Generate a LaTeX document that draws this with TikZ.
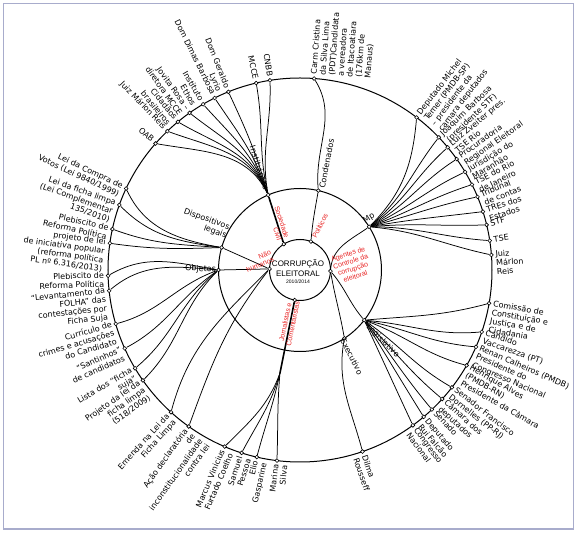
\documentclass[tikz,border=0pt]{standalone}
\usepackage{fontspec}
\setmainfont{DejaVu Sans}
\newfontfamily\redfnt{Liberation Sans}
\usetikzlibrary{backgrounds}
\definecolor{redlab}{RGB}{232,36,36}
\definecolor{framec}{RGB}{168,172,204}
\newcommand\lblfont{\fontsize{8}{9}\selectfont}
\newcommand\tabL[1]{\begin{tabular}[t]{@{}l@{}}#1\end{tabular}}
\newcommand\tabR[1]{\begin{tabular}[t]{@{}r@{}}#1\end{tabular}}
\begin{document}
\begin{tikzpicture}[x=1pt,y=1pt,
  conn/.style={line width=0.75pt},
  bundle/.style={line width=1.6pt},
  ring/.style={line width=1pt},
  dot/.style={circle,draw,fill=white,inner sep=0pt,minimum size=3.8pt,line width=0.6pt},
  lr/.style={anchor=base west,inner sep=0pt,font=\lblfont},
  ll/.style={anchor=base east,inner sep=0pt,font=\lblfont},
  hublab/.style={inner sep=0pt,font=\lblfont},
  redl/.style={text=redlab,inner sep=0pt,font=\redfnt\fontsize{7}{7.8}\selectfont}]
\useasboundingbox (-300,-264) rectangle (278,270);
\draw[framec,line width=1.5pt] (-296.5,266.5) rectangle (273.5,-259);
\draw[ring] (0,0) circle[radius=192pt];
\draw[ring] (0,0) circle[radius=81.5pt];
\node[circle,draw,ring,minimum size=61pt,inner sep=0pt] (core) at (0,0) {};
\node[inner sep=0pt,font=\redfnt\fontsize{8}{10.5}\selectfont] (ctext) at (-2,-3)
  {\begin{tabular}{@{}c@{}}CORRUPÇÃO\\ELEITORAL\\[-3.5pt]{\fontsize{5}{6}\selectfont 2010/2014}\end{tabular}};

% hub dots
\node[dot] (S) at (122:30.5) {};
\node[dot] (P) at (69:30.5) {};
\node[dot] (A) at (-2:30.5) {};
\node[dot] (N) at (178:30.5) {};
\node[dot] (J) at (260:30.5) {};
\node[dot] (I) at (113:81.5) {};
\node[dot] (C) at (77:81.5) {};
\node[dot] (M) at (32:81.5) {};
\node[dot] (E) at (-57:81.5) {};
\node[dot] (L) at (-38:81.5) {};
\node[dot] (D) at (164:81.5) {};
\node[dot] (O) at (180:81.5) {};
\coordinate (K) at (259:105);

% red labels
\node[redl,rotate=-72.2] (rSoc) at (-22.7,46.5) {\tabR{Sociedade\\Civil}};
\node[redl,rotate=63] (rPol) at (20,44) {Políticos};
\node[redl,rotate=18] (rAg) at (52,4) {\begin{tabular}{@{}c@{}}Agentes de\\Controle da\\corrupção\\eleitoral\end{tabular}};
\node[redl,rotate=22] (rNh) at (-41,8) {\tabR{Não\\humanos}};
\node[redl,rotate=78.5] (rJor) at (-10,-53) {\begin{tabular}{@{}c@{}}Jornalistas e\\Comentaristas\end{tabular}};

% hub labels
\node[hublab,anchor=east,rotate=-72] (Il) at (-34,80) {Instituições};
\node[hublab,anchor=west,rotate=79] (Cl) at (21.8,81.7) {Condenados};
\node[hublab,rotate=32] (Ml) at (69,51.5) {Mp};
\node[hublab,rotate=-63] (El) at (51.7,-86.7) {Executivo};
\node[hublab,rotate=-45] (Ll) at (82.7,-71) {Legislativo};
\node[hublab,rotate=-20] (Dl) at (-95,46) {\tabR{Dispositivos\\legais}};
\node[hublab,anchor=east,rotate=-3] (Ol) at (-84,0) {Objetos};

% outer dots
\foreach \n/\a in {a1/138.8,a2/133.7,a3/129.5,a4/125.1,a5/120.3,a6/116.4,a7/111.9,a8/103.2,a9/99,
  b1/85.8,c1/52.6,c2/43.7,c3/39.7,c4/35.3,c5/30.7,c6/26.4,c7/22.4,c8/17.7,c9/13.6,c10/8.8,c11/4.5,
  d1/-10,d2/-18.8,d3/-23.6,d4/-29.8,d5/-37.7,d6/-42.2,d7/-46.6,d8/-49.9,d9/-54,e1/-71,
  f1/246.9,f2/252.3,f3/257,f4/263.1,g1/154.9,g2/160.2,g3/167.7,g4/172,
  h1/181.7,h2/186.2,h3/196.3,h4/204.1,h5/210.8,h6/215.1,i1/227.8,i2/234.6}
  {\node[dot] (\n) at (\a:192) {};}

% outer labels, left side
\node[ll,rotate=-41.2] (la1) at (139.45:196) {\tabR{OAB}};
\node[ll,rotate=-46.3] (la2) at (134.35:196) {\tabR{Juiz Márlon Reis}};
\node[ll,rotate=-50.5] (la3) at (130.15:196) {\tabR{Cidadãos\\brasileiros}};
\node[ll,rotate=-54.9] (la4) at (125.75:196) {\tabR{Jovita Rosa –\\diretora MCCE}};
\node[ll,rotate=-59.7] (la5) at (120.95:196) {\tabR{Instituto\\Ethos}};
\node[ll,rotate=-63.6] (la6) at (117.05:196) {\tabR{Dom Dimas Barbosa}};
\node[ll,rotate=-68.1] (la7) at (112.55:196) {\tabR{Dom Geraldo\\Lyrio}};
\node[ll,rotate=-76.8] (la8) at (103.85:196) {\tabR{MCCE}};
\node[ll,rotate=-81] (la9) at (99.65:196) {\tabR{CNBB}};
\node[ll,rotate=66.9] (lf1) at (247.55:196) {\tabR{Marcus Vinicius\\Furtado Coelho}};
\node[ll,rotate=72.3] (lf2) at (252.95:196) {\tabR{Samuel\\Pessoa}};
\node[ll,rotate=77] (lf3) at (257.65:196) {\tabR{Elio\\Gasparine}};
\node[ll,rotate=83.1] (lf4) at (263.75:196) {\tabR{Marina\\Silva}};
\node[ll,rotate=-25.1] (lg1) at (155.55:196) {\tabR{Lei da Compra de\\Votos (Lei 9840/1999)}};
\node[ll,rotate=-19.8] (lg2) at (160.85:196) {\tabR{Lei da ficha limpa\\(Lei Complementar\\135/2010)}};
\node[ll,rotate=-12.3] (lg3) at (168.35:196) {\tabR{Plebiscito de\\Reforma Política}};
\node[ll,rotate=-8] (lg4) at (172.65:196) {\tabR{projeto de lei\\de iniciativa popular\\(reforma política\\PL nº 6.316/2013)}};
\node[ll,rotate=1.7] (lh1) at (182.35:196) {\tabR{Plebiscito de\\Reforma Política}};
\node[ll,rotate=6.2] (lh2) at (186.85:196) {\tabR{“Levantamento da\\FOLHA” das\\contestações por\\Ficha Suja}};
\node[ll,rotate=16.3] (lh3) at (196.95:196) {\tabR{Currículo de\\crimes e acusações\\do Candidato}};
\node[ll,rotate=24.1] (lh4) at (204.75:196) {\tabR{“Santinhos”\\de candidatos}};
\node[ll,rotate=30.8] (lh5) at (211.45:196) {\tabR{Lista dos “ficha\\suja”}};
\node[ll,rotate=35.1] (lh6) at (215.75:196) {\tabR{Projeto da lei da\\ficha limpa\\(518/2009)}};
\node[ll,rotate=47.8] (li1) at (228.45:196) {\tabR{Emenda na Lei da\\Ficha Limpa}};
\node[ll,rotate=54.6] (li2) at (235.25:196) {\tabR{Ação declaratória\\de\\inconstitucionalidade\\contra lei}};

% outer labels, right side
\node[lr,rotate=85.8] (lb1) at (85.15:196) {\tabL{Carm Cristina\\da Silva Lima\\(PDT)Candidata\\a vereadora\\de Itacoatiara\\(176km de\\Manaus)}};
\node[lr,rotate=52.6] (lc1) at (51.95:196) {\tabL{Deputado Michel\\Temer (PMDB-SP)\\– presidente da\\camara deputados}};
\node[lr,rotate=43.7] (lc2) at (43.05:196) {\tabL{Joaquim Barbosa\\(presidente STF)}};
\node[lr,rotate=39.7] (lc3) at (39.05:196) {\tabL{Luiz Zveiter pres.\\TSE Rio}};
\node[lr,rotate=35.3] (lc4) at (34.65:196) {\tabL{Procuradoria\\Regional Eleitoral}};
\node[lr,rotate=30.7] (lc5) at (30.05:196) {\tabL{Jurisdição do\\Maranhão}};
\node[lr,rotate=26.4] (lc6) at (25.75:196) {\tabL{TSE do Rio\\de Janeiro}};
\node[lr,rotate=22.4] (lc7) at (21.75:196) {\tabL{Tribunal\\de contas}};
\node[lr,rotate=17.7] (lc8) at (17.05:196) {\tabL{TREs dos\\Estados}};
\node[lr,rotate=13.6] (lc9) at (12.95:196) {\tabL{STF}};
\node[lr,rotate=8.8] (lc10) at (8.15:196) {\tabL{TSE}};
\node[lr,rotate=4.5] (lc11) at (3.85:196) {\tabL{Juiz\\Márlon\\Reis}};
\node[lr,rotate=-10] (ld1) at (-10.65:196) {\tabL{Comissão de\\Constituição e\\Justiça e de\\Cidadania}};
\node[lr,rotate=-18.8] (ld2) at (-19.45:196) {\tabL{Cândido\\Vaccarezza (PT)}};
\node[lr,rotate=-23.6] (ld3) at (-24.25:196) {\tabL{Renan Calheiros (PMDB)\\Presidente do\\Congresso Nacional}};
\node[lr,rotate=-29.8] (ld4) at (-30.45:196) {\tabL{Henrique Alves\\(PMDB-RN)\\Presidente da Câmara}};
\node[lr,rotate=-37.7] (ld5) at (-38.35:196) {\tabL{Senador Francisco\\Dornelles (PP-RJ)}};
\node[lr,rotate=-42.2] (ld6) at (-42.85:196) {\tabL{Câmara dos\\deputados}};
\node[lr,rotate=-46.6] (ld7) at (-47.25:196) {\tabL{Senado}};
\node[lr,rotate=-49.9] (ld8) at (-50.55:196) {\tabL{Deputado\\Rui Falcão}};
\node[lr,rotate=-54] (ld9) at (-54.65:196) {\tabL{Congresso\\Nacional}};
\node[lr,rotate=-71] (le1) at (-71.65:196) {\tabL{Dilma\\Rousseff}};

% connectors
\begin{scope}[on background layer]
\draw[bundle] (S) -- (I);
\draw[conn] (I) to[out=116,in=-10] (a1);
\draw[conn] (I) to[out=114,in=-20] (a2);
\draw[conn] (I) to[out=112,in=-30] (a3);
\draw[conn] (I) to[out=111,in=-38] (a4);
\draw[conn] (I) to[out=110,in=-48] (a5);
\draw[conn] (I) to[out=108,in=-56] (a6);
\draw[conn] (I) to[out=106,in=-65] (a7);
\draw[conn] (I) to[out=103,in=-80] (a8);
\draw[conn] (I) to[out=100,in=-88] (a9);

\draw[conn] (P) to[out=85,in=-100] (C);
\draw[conn] (C) to[out=95,in=-58] (b1);

\draw[conn] (A) to[out=85,in=215] (M);
\draw[conn] (A) to[out=-80,in=100] (E);
\draw[conn] (A) to[out=-50,in=130] (L);

\draw[conn] (M) to[out=45,in=265] (c1);
\draw[conn] (M) to[out=40,in=232] (c2);
\draw[conn] (M) to[out=35,in=222] (c3);
\draw[conn] (M) to[out=30,in=213] (c4);
\draw[conn] (M) to[out=25,in=205] (c5);
\draw[conn] (M) to[out=20,in=198] (c6);
\draw[conn] (M) to[out=15,in=192] (c7);
\draw[conn] (M) to[out=10,in=187] (c8);
\draw[conn] (M) to[out=5,in=182] (c9);
\draw[conn] (M) to[out=0,in=176] (c10);
\draw[conn] (M) to[out=-5,in=168] (c11);

\draw[conn] (L) to[out=5,in=195] (d1);
\draw[conn] (L) to[out=-5,in=185] (d2);
\draw[conn] (L) to[out=-12,in=175] (d3);
\draw[conn] (L) to[out=-20,in=165] (d4);
\draw[conn] (L) to[out=-35,in=150] (d5);
\draw[conn] (L) to[out=-45,in=140] (d6);
\draw[conn] (L) to[out=-52,in=130] (d7);
\draw[conn] (L) to[out=-58,in=122] (d8);
\draw[conn] (L) to[out=-65,in=115] (d9);

\draw[conn] (E) to[out=-100,in=105] (e1);

\draw[bundle] (J) -- (K);
\draw[conn] (K) to[out=250,in=45] (f1);
\draw[conn] (K) to[out=254,in=62] (f2);
\draw[conn] (K) to[out=258,in=75] (f3);
\draw[conn] (K) to[out=265,in=88] (f4);

\draw[conn] (N) -- (D);
\draw[conn] (N) -- (O);
\draw[conn] (N) to[out=225,in=75] (i1);
\draw[conn] (N) to[out=232,in=70] (i2);

\draw[conn] (D) to[out=170,in=-65] (g1);
\draw[conn] (D) to[out=172,in=-45] (g2);
\draw[conn] (D) to[out=176,in=-20] (g3);
\draw[conn] (D) to[out=182,in=-8] (g4);

\draw[conn] (O) to[out=170,in=30] (h1);
\draw[conn] (O) to[out=175,in=40] (h2);
\draw[conn] (O) to[out=200,in=15] (h3);
\draw[conn] (O) to[out=215,in=28] (h4);
\draw[conn] (O) to[out=220,in=40] (h5);
\draw[conn] (O) to[out=225,in=45] (h6);
\end{scope}
\end{tikzpicture}
\end{document}
